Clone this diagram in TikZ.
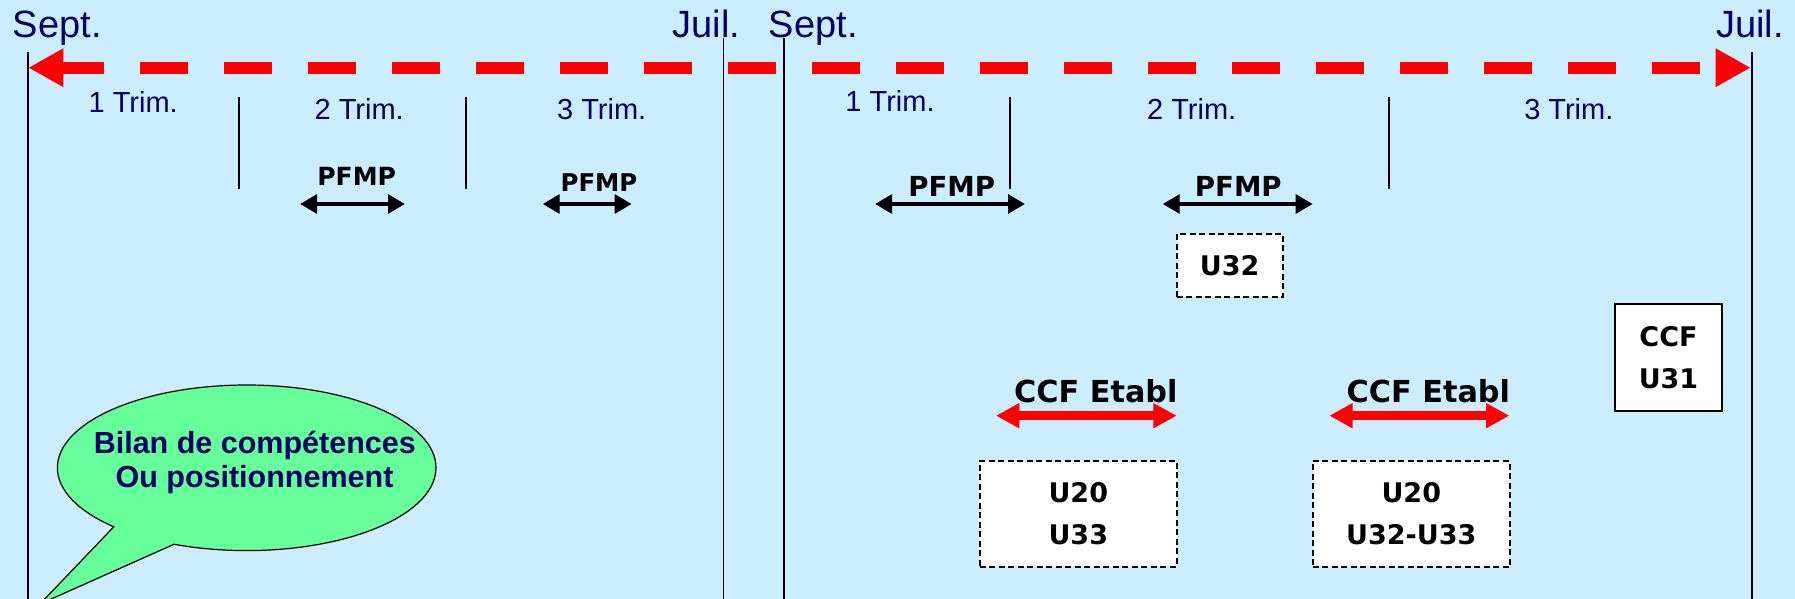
\documentclass[tikz,border=0pt]{standalone}
\usepackage{fontspec}
\setmainfont{Liberation Sans}
\newfontfamily\arialfont{Liberation Sans}
\newfontfamily\comicfont{DejaVu Sans}
\usetikzlibrary{arrows.meta,shapes.callouts,shapes.geometric}
\definecolor{bg}{HTML}{CCECFF}
\definecolor{navy}{HTML}{000066}
\definecolor{bubblegreen}{HTML}{66FF99}
\begin{document}
\begin{tikzpicture}[x=1pt,y=-1pt,
  month/.style={inner sep=0pt, anchor=base, text=navy, font=\arialfont\fontsize{38}{44}\selectfont},
  trim/.style={inner sep=0pt, anchor=base, text=navy, font=\arialfont\fontsize{29}{34}\selectfont},
  comic/.style={inner sep=0pt, anchor=base, font=\comicfont\bfseries\fontsize{#1}{#1}\selectfont},
  vline/.style={draw=black, line width=1.6pt},
  pfmparrow/.style={draw=black, line width=4.5pt, {Triangle[length=17pt,width=18.5pt]}-{Triangle[length=17pt,width=18.5pt]}},
  ccfarrow/.style={draw=red, line width=8.5pt, {Triangle[length=23.3pt,width=23.5pt]}-{Triangle[length=23.3pt,width=23.5pt]}},
  dbox/.style={draw=black, fill=white, dash pattern=on 6pt off 3.5pt, line width=1.8pt, inner sep=0pt, align=center, font=\comicfont\bfseries\fontsize{27}{41.7}\selectfont},
  sbox/.style={draw=black, fill=white, line width=1.8pt, inner sep=0pt, align=center, font=\comicfont\bfseries\fontsize{27}{41.4}\selectfont},
  bubtext/.style={inner sep=0pt, anchor=base, text=navy, font=\arialfont\bfseries\fontsize{30.5}{34}\selectfont}
]
\path[use as bounding box, fill=bg] (0,0) rectangle (1795,599);

% timeline
\coordinate (tlL) at (28.3,67.7);
\coordinate (tlR) at (1750.7,67.7);
\draw[red, line width=11.7pt, dash pattern=on 48.3pt off 35.7pt, dash phase=5.6pt,
  {Triangle[length=35pt,width=36pt]}-{Triangle[length=35pt,width=36pt]}] (tlL) -- (tlR);

% long vertical lines
\draw[vline] (27.7,51.7) -- (27.7,599);
\draw[vline] (723.3,37.7) -- (723.3,599);
\draw[vline] (784,37.7) -- (784,599);
\draw[vline] (1751.7,51.7) -- (1751.7,599);

% trimester ticks
\draw[vline] (239,97.3) -- (239,189.3);
\draw[vline] (466,97.3) -- (466,189.3);
\draw[vline] (1010,97.3) -- (1010,189.3);
\draw[vline] (1389,97.3) -- (1389,189.3);

% months
\node[month] (sept1) at (57.2,37.3) {Sept.};
\node[month] (juil1) at (706.3,37.3) {Juil.};
\node[month] (sept2) at (813.3,37.3) {Sept.};
\node[month] (juil2) at (1750,37.3) {Juil.};

% trimesters
\node[trim] (t11) at (133.2,112.3) {1 Trim.};
\node[trim] (t12) at (359.2,120) {2 Trim.};
\node[trim] (t13) at (601.7,120) {3 Trim.};
\node[trim] (t21) at (890,111.7) {1 Trim.};
\node[trim] (t22) at (1191.7,120) {2 Trim.};
\node[trim] (t23) at (1568.8,120) {3 Trim.};

% PFMP
\node[comic=25] (pf1) at (356.7,185) {PFMP};
\node[comic=24.4] (pf2) at (599,191.7) {PFMP};
\node[comic=27.6] (pf3) at (951.7,196.7) {PFMP};
\node[comic=27.6] (pf4) at (1238.3,196.7) {PFMP};
\coordinate (a1l) at (300,204);   \coordinate (a1r) at (405,204);
\coordinate (a2l) at (542.7,204); \coordinate (a2r) at (631.7,204);
\coordinate (a3l) at (875,204);   \coordinate (a3r) at (1025,204);
\coordinate (a4l) at (1162.7,204);\coordinate (a4r) at (1312.7,204);
\draw[pfmparrow] (a1l) -- (a1r);
\draw[pfmparrow] (a2l) -- (a2r);
\draw[pfmparrow] (a3l) -- (a3r);
\draw[pfmparrow] (a4l) -- (a4r);

% U32 box
\node[dbox, minimum width=106pt, minimum height=63.3pt] (u32) at (1229.7,265.7) {U32};

% CCF U31 box
\node[sbox, minimum width=106.4pt, minimum height=106.4pt] (ccf) at (1668.5,357.5) {CCF\\U31};

% CCF Etabl
\node[comic=30.3] (ce1) at (1095.8,402.7) {CCF Etabl};
\node[comic=30.3] (ce2) at (1428.3,402.7) {CCF Etabl};
\coordinate (c1l) at (996,415.7);   \coordinate (c1r) at (1176.7,415.7);
\coordinate (c2l) at (1329.3,415.7);\coordinate (c2r) at (1509.3,415.7);
\draw[ccfarrow] (c1l) -- (c1r);
\draw[ccfarrow] (c2l) -- (c2r);

% bottom boxes
\node[dbox, minimum width=196.7pt, minimum height=106pt] (b1) at (1078.3,513.7) {U20\\U33};
\node[dbox, minimum width=197.3pt, minimum height=105.7pt] (b2) at (1411.3,513.85) {U20\\U32-U33};

% speech bubble
\node[ellipse callout, draw=black, fill=bubblegreen, line width=1.2pt, inner sep=0pt,
  minimum width=378.6pt, minimum height=165.6pt,
  callout absolute pointer={(40,604)}, callout pointer arc=22] (bub) at (246.7,467.8) {};
\node[bubtext] (bt1) at (254.8,453.3) {Bilan de compétences};
\node[bubtext] (bt2) at (254.5,487.7) {Ou positionnement};
\end{tikzpicture}
\end{document}
